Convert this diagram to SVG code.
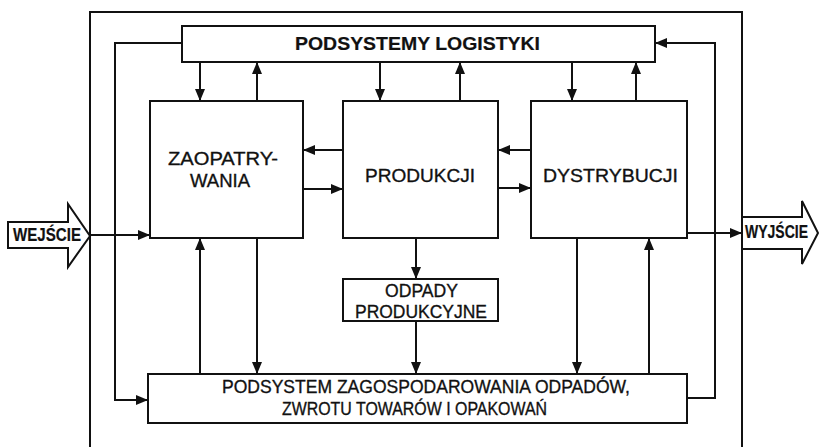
<svg xmlns="http://www.w3.org/2000/svg" width="820" height="447" viewBox="0 0 820 447">
  <style>
    .box { fill: #fff; stroke: #111; stroke-width: 2; }
    .ln { fill: none; stroke: #111; stroke-width: 2; }
    .t { font-family: "Liberation Sans", Arial, sans-serif; fill: #111; stroke: #111; stroke-width: 0.35; font-size: 19px; }
    .b { font-weight: bold; stroke-width: 0.2; }
  </style>
  <defs>
    <marker id="ah" viewBox="0 0 12 10" refX="12" refY="5" markerWidth="12" markerHeight="10" markerUnits="userSpaceOnUse" orient="auto">
      <path d="M0,0 L12,5 L0,10 Z" fill="#111"/>
    </marker>
  </defs>
  <rect width="820" height="447" fill="#fff"/>

  <!-- system boundary (open at the bottom) -->
  <path class="ln" d="M90,447 V12 H742 V447"/>

  <!-- connectors -->
  <g id="connectors" class="ln" marker-end="url(#ah)">
    <!-- logistics subsystems <-> functional areas -->
    <path d="M200,62 V101"/>
    <path d="M257,101 V62"/>
    <path d="M380,62 V101"/>
    <path d="M460,101 V62"/>
    <path d="M572,62 V101"/>
    <path d="M636,101 V62"/>
    <!-- flows between functional areas -->
    <path d="M343,150 H303"/>
    <path d="M303,189 H343"/>
    <path d="M531,150 H498"/>
    <path d="M498,188 H531"/>
    <!-- functional areas <-> waste / returns subsystem -->
    <path d="M200,374 V238"/>
    <path d="M257,238 V374"/>
    <path d="M416,238 V279"/>
    <path d="M416,321 V374"/>
    <path d="M577,238 V374"/>
    <path d="M649,374 V238"/>
    <!-- feedback loops -->
    <path d="M182,43 H115 V400 H148"/>
    <path d="M687,398 H715 V43 H655"/>
    <!-- input and output -->
    <path d="M90,235 H150"/>
    <path d="M687,233 H742"/>
  </g>

  <!-- input block arrow -->
  <g id="wejscie">
    <path class="box" d="M8,222 H68 V204 L90,236 L68,267 V248 H8 Z"/>
    <text class="t b" x="13" y="241" font-size="14" textLength="68" lengthAdjust="spacingAndGlyphs">WEJŚCIE</text>
  </g>

  <!-- output block arrow -->
  <g id="wyjscie">
    <path class="box" d="M742,217 H802 V201 L818,233 L802,264 V249 H742 Z"/>
    <text class="t b" x="745" y="238" font-size="14" textLength="63" lengthAdjust="spacingAndGlyphs">WYJŚCIE</text>
  </g>

  <g id="logistyka">
    <rect class="box" x="182" y="26" width="473" height="36"/>
    <text class="t b" x="295" y="50" font-size="18.5" textLength="245" lengthAdjust="spacingAndGlyphs">PODSYSTEMY LOGISTYKI</text>
  </g>

  <g id="zaopatrywanie">
    <rect class="box" x="150" y="101" width="153" height="137"/>
    <text class="t" x="168" y="165" textLength="110" lengthAdjust="spacingAndGlyphs">ZAOPATRY-</text>
    <text class="t" x="190" y="187" textLength="60" lengthAdjust="spacingAndGlyphs">WANIA</text>
  </g>

  <g id="produkcja">
    <rect class="box" x="343" y="101" width="155" height="137"/>
    <text class="t" x="365" y="182" textLength="110" lengthAdjust="spacingAndGlyphs">PRODUKCJI</text>
  </g>

  <g id="dystrybucja">
    <rect class="box" x="531" y="101" width="156" height="137"/>
    <text class="t" x="543" y="182" textLength="135" lengthAdjust="spacingAndGlyphs">DYSTRYBUCJI</text>
  </g>

  <g id="odpady">
    <rect class="box" x="343" y="279" width="155" height="42"/>
    <text class="t" x="385" y="297" font-size="17.5" textLength="73" lengthAdjust="spacingAndGlyphs">ODPADY</text>
    <text class="t" x="355" y="318" font-size="17.5" textLength="132" lengthAdjust="spacingAndGlyphs">PRODUKCYJNE</text>
  </g>

  <g id="zagospodarowanie">
    <rect class="box" x="148" y="374" width="539" height="49"/>
    <text class="t" x="222" y="393" font-size="17.5" textLength="408" lengthAdjust="spacingAndGlyphs">PODSYSTEM ZAGOSPODAROWANIA ODPADÓW,</text>
    <text class="t" x="282" y="415" font-size="17.5" textLength="265" lengthAdjust="spacingAndGlyphs">ZWROTU TOWARÓW I OPAKOWAŃ</text>
  </g>
</svg>
